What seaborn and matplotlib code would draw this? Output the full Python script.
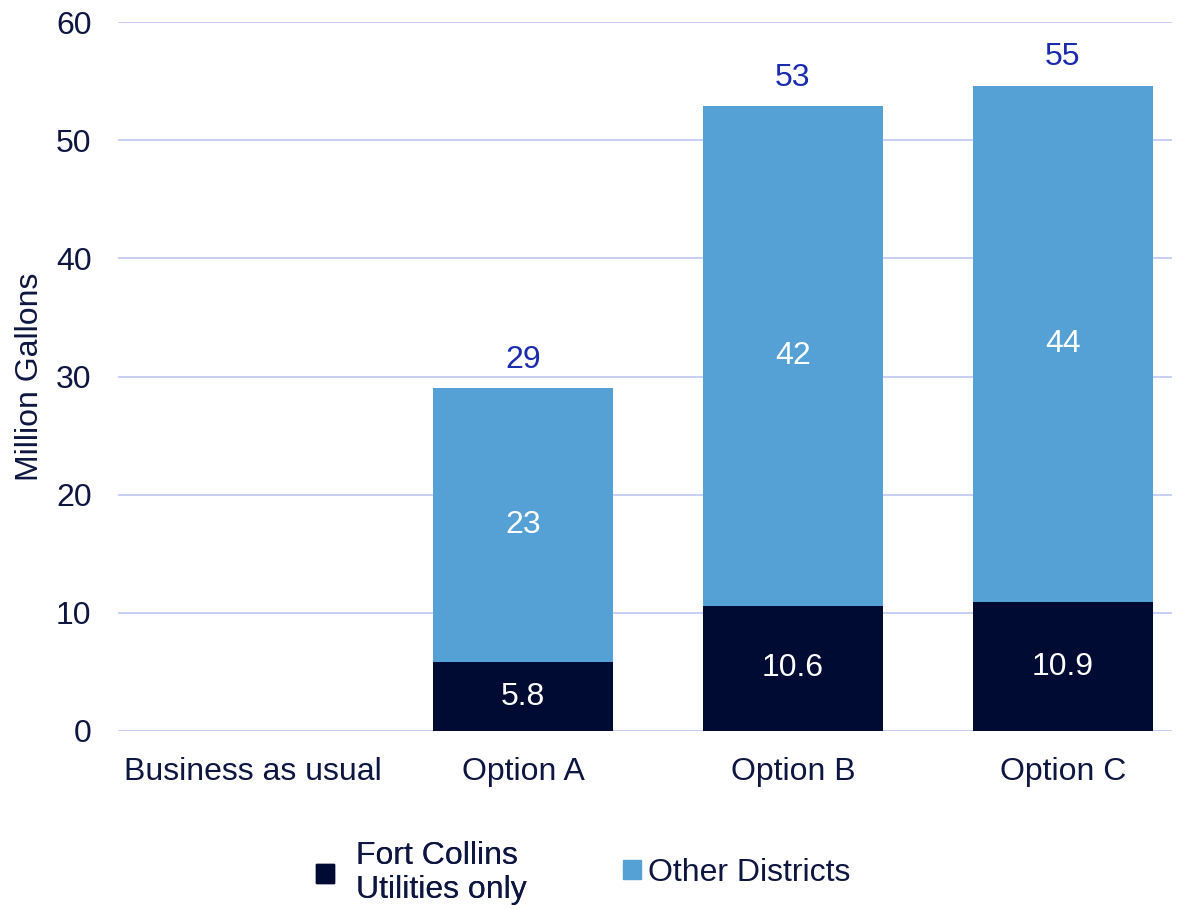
import matplotlib
matplotlib.use('Agg')
import matplotlib.pyplot as plt
import seaborn as sns
import pandas as pd
from matplotlib.patches import Patch

categories = ['Business as usual', 'Option A', 'Option B', 'Option C']
fort_collins = [0.0, 5.8, 10.6, 10.9]
other_districts = [0.0, 23.2, 42.3, 43.7]
fc_labels = ['', '5.8', '10.6', '10.9']
other_labels = ['', '23', '42', '44']
total_labels = ['', '29', '53', '55']

DARK = '#000B33'
LIGHT = '#55A0D4'
TEXT = '#0D1640'
TOTAL_C = '#1A2BAF'
GRID = '#C5CBF5'
FS = 23

sns.set_theme(style='white')
plt.rcParams['font.family'] = ['Liberation Sans', 'DejaVu Sans']

df = pd.DataFrame({'category': categories,
                   'fc': fort_collins,
                   'other': other_districts})
df['total'] = df['fc'] + df['other']

fig = plt.figure(figsize=(11.84, 9.09), dpi=100)
# plot area: x 118..1172 px, y 22..731 px
ax = fig.add_axes([118 / 1184, 1 - 731 / 909, (1172 - 118) / 1184, 709 / 909])

sns.barplot(data=df, x='category', y='total', color=LIGHT, width=0.667,
            saturation=1, linewidth=0, ax=ax, zorder=3)
sns.barplot(data=df, x='category', y='fc', color=DARK, width=0.667,
            saturation=1, linewidth=0, ax=ax, zorder=3)

for i in range(len(categories)):
    if fc_labels[i]:
        ax.text(i, fort_collins[i] / 2, fc_labels[i], ha='center', va='center',
                color='white', fontsize=FS, zorder=4)
    if other_labels[i]:
        ax.text(i, fort_collins[i] + other_districts[i] / 2, other_labels[i],
                ha='center', va='center', color='white', fontsize=FS, zorder=4)
    if total_labels[i]:
        ax.text(i, df['total'][i] + 2.4, total_labels[i], ha='center',
                va='center', color=TOTAL_C, fontsize=FS, zorder=4)

ax.set_ylim(0, 60)
ax.set_xlim(-0.5, 3.5 - 26 / 270)
ax.set_yticks(range(0, 61, 10))
ax.yaxis.grid(True, color=GRID, linewidth=1.3, zorder=0)
ax.set_axisbelow(True)
for s in ax.spines.values():
    s.set_visible(False)
ax.tick_params(axis='both', length=0, labelsize=FS, labelcolor=TEXT)
ax.tick_params(axis='x', pad=19)
ax.tick_params(axis='y', pad=19)
ax.set_xlabel('')
ax.set_ylabel('Million Gallons', fontsize=FS, color=TEXT, labelpad=8)

leg1 = fig.legend(handles=[Patch(color=DARK, label='Fort Collins\nUtilities only')],
                  loc='center left', bbox_to_anchor=(316 / 1184, 1 - 873 / 909),
                  frameon=False, fontsize=FS, handlelength=0.55, handleheight=0.55,
                  handletextpad=0.7, borderpad=0, borderaxespad=0, labelcolor=TEXT)
fig.legend(handles=[Patch(color=LIGHT, label='Other Districts')],
           loc='center left', bbox_to_anchor=(623 / 1184, 1 - 873 / 909),
           frameon=False, fontsize=FS, handlelength=0.55, handleheight=0.55,
           handletextpad=0.22, borderpad=0, borderaxespad=0, labelcolor=TEXT)
fig.add_artist(leg1)

fig.savefig('out.png', dpi=100)
